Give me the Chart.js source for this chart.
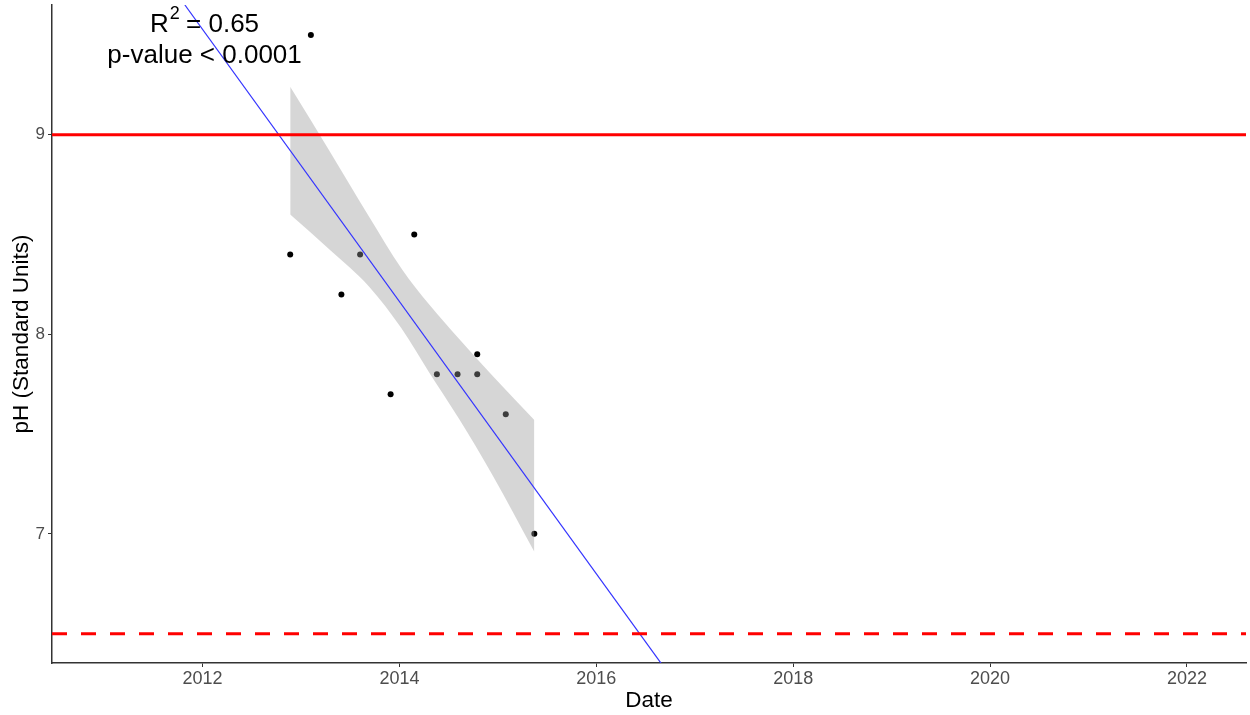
<!DOCTYPE html>
<html lang="en">
<head>
    <meta charset="UTF-8">
    <title>pH trend</title>
    <script src="https://cdn.jsdelivr.net/npm/chart.js"></script>
    <style>
        html, body { margin: 0; padding: 0; background: #fff; }
        #wrap { width: 1250px; height: 715px; position: relative; }
    </style>
</head>
<body>
<div id="wrap"><canvas id="myChart"></canvas></div>
<script>
    // observations (decimal year, pH)
    const sampleDates = [2012.89, 2013.10, 2013.41, 2013.60, 2013.91, 2014.15, 2014.38, 2014.59, 2014.79, 2014.79, 2015.08, 2015.37];
    const samplePH = [8.4, 9.5, 8.2, 8.4, 7.7, 8.5, 7.8, 7.8, 7.9, 7.8, 7.6, 7.0];

    // linear fit and its confidence band
    const fitDates = [2011.82, 2016.66];
    const fitPH = [9.65, 6.35];
    const bandDates = [2012.89, 2013.30, 2013.69, 2014.02, 2014.30, 2014.60, 2014.95, 2015.37];
    const bandUpper = [9.24, 8.91, 8.59, 8.33, 8.15, 7.98, 7.79, 7.57];
    const bandLower = [8.60, 8.42, 8.24, 8.03, 7.81, 7.58, 7.29, 6.91];

    // limits
    const upperLimit = 9;
    const lowerLimit = 6.5;

    const xTicks = [2012, 2014, 2016, 2018, 2020, 2022];
    const yTicks = [7, 8, 9];
    const xRange = [2010.47, 2022.6];
    const yRange = [6.353, 9.65];

    const statLines = ['0.65', '< 0.0001'];
    const statPos = { x: 2012.02, y1: 9.55, y2: 9.395 };

    const font = "'Liberation Sans', Arial, sans-serif";

    const pts = (xs, ys) => xs.map((x, i) => ({ x: x, y: ys[i] }));

    const statText = {
        id: 'statText',
        afterDatasetsDraw(chart) {
            const ctx = chart.ctx;
            const xs = chart.scales.x, ys = chart.scales.y;
            const cx = xs.getPixelForValue(statPos.x);
            ctx.save();
            ctx.fillStyle = '#000';
            ctx.textBaseline = 'middle';
            ctx.textAlign = 'left';
            // line 1: R^2 = value
            const a = 'R', c = ' = ' + statLines[0];
            ctx.font = '18px ' + font;
            const wSup = ctx.measureText('2').width;
            ctx.font = '26px ' + font;
            const wA = ctx.measureText(a).width, wC = ctx.measureText(c).width;
            let x0 = cx - (wA + wSup + wC) / 2;
            const y1 = ys.getPixelForValue(statPos.y1);
            ctx.fillText(a, x0, y1);
            ctx.font = '18px ' + font;
            ctx.fillText('2', x0 + wA + 1, y1 - 11);
            ctx.font = '26px ' + font;
            ctx.fillText(c, x0 + wA + wSup, y1);
            // line 2: p-value
            ctx.textAlign = 'center';
            ctx.fillText('p-value ' + statLines[1], cx, ys.getPixelForValue(statPos.y2));
            ctx.restore();
        }
    };

    const ctx = document.getElementById('myChart').getContext('2d');
    new Chart(ctx, {
        type: 'scatter',
        plugins: [statText],
        data: {
            datasets: [
                {
                    label: 'pH',
                    data: pts(sampleDates, samplePH),
                    backgroundColor: '#000',
                    borderWidth: 0,
                    pointRadius: 3,
                    order: 5
                },
                {
                    label: 'upper',
                    type: 'line',
                    data: pts(bandDates, bandUpper),
                    borderWidth: 0,
                    pointRadius: 0,
                    cubicInterpolationMode: 'monotone',
                    backgroundColor: 'rgba(153,153,153,0.4)',
                    fill: '+1',
                    order: 4
                },
                {
                    label: 'lower',
                    type: 'line',
                    data: pts(bandDates, bandLower),
                    borderWidth: 0,
                    pointRadius: 0,
                    cubicInterpolationMode: 'monotone',
                    fill: false,
                    order: 4
                },
                {
                    label: 'fit',
                    type: 'line',
                    data: pts(fitDates, fitPH),
                    borderColor: '#3333ff',
                    borderWidth: 1.2,
                    pointRadius: 0,
                    fill: false,
                    order: 3
                },
                {
                    label: 'max',
                    type: 'line',
                    data: pts(xRange, [upperLimit, upperLimit]),
                    borderColor: '#ff0000',
                    borderWidth: 3,
                    pointRadius: 0,
                    fill: false,
                    order: 2
                },
                {
                    label: 'min',
                    type: 'line',
                    data: pts(xRange, [lowerLimit, lowerLimit]),
                    borderColor: '#ff0000',
                    borderWidth: 3,
                    borderDash: [15, 14],
                    pointRadius: 0,
                    fill: false,
                    order: 1
                }
            ]
        },
        options: {
            responsive: true,
            maintainAspectRatio: false,
            animation: false,
            layout: { padding: { top: 5, right: 2, left: 0, bottom: 0 } },
            plugins: {
                legend: { display: false },
                tooltip: { enabled: false }
            },
            scales: {
                x: {
                    type: 'linear',
                    min: xRange[0],
                    max: xRange[1],
                    afterBuildTicks: s => { s.ticks = xTicks.map(v => ({ value: v })); },
                    afterFit: s => { s.height = 52; s.paddingLeft = 0; s.paddingRight = 0; },
                    grid: { drawOnChartArea: false, drawTicks: true, tickLength: 4, color: '#333' },
                    border: { display: true, color: '#333', width: 1.5 },
                    ticks: { color: '#4d4d4d', font: { family: font, size: 18 }, padding: 1, maxRotation: 0, callback: v => String(v) },
                    title: { display: true, text: 'Date', color: '#000', font: { family: font, size: 22.5 }, padding: { top: 0, bottom: 1 } }
                },
                y: {
                    type: 'linear',
                    min: yRange[0],
                    max: yRange[1],
                    afterBuildTicks: s => { s.ticks = yTicks.map(v => ({ value: v })); },
                    afterFit: s => { s.width = 52; s.paddingTop = 0; s.paddingBottom = 0; },
                    grid: { drawOnChartArea: false, drawTicks: true, tickLength: 4, color: '#333' },
                    border: { display: true, color: '#333', width: 1.5 },
                    ticks: { color: '#4d4d4d', font: { family: font, size: 17 }, padding: 3, callback: v => String(v) },
                    title: { display: true, text: 'pH (Standard Units)', color: '#000', font: { family: font, size: 22.5 }, padding: { top: 8, bottom: 0 } }
                }
            }
        }
    });
</script>
</body>
</html>
